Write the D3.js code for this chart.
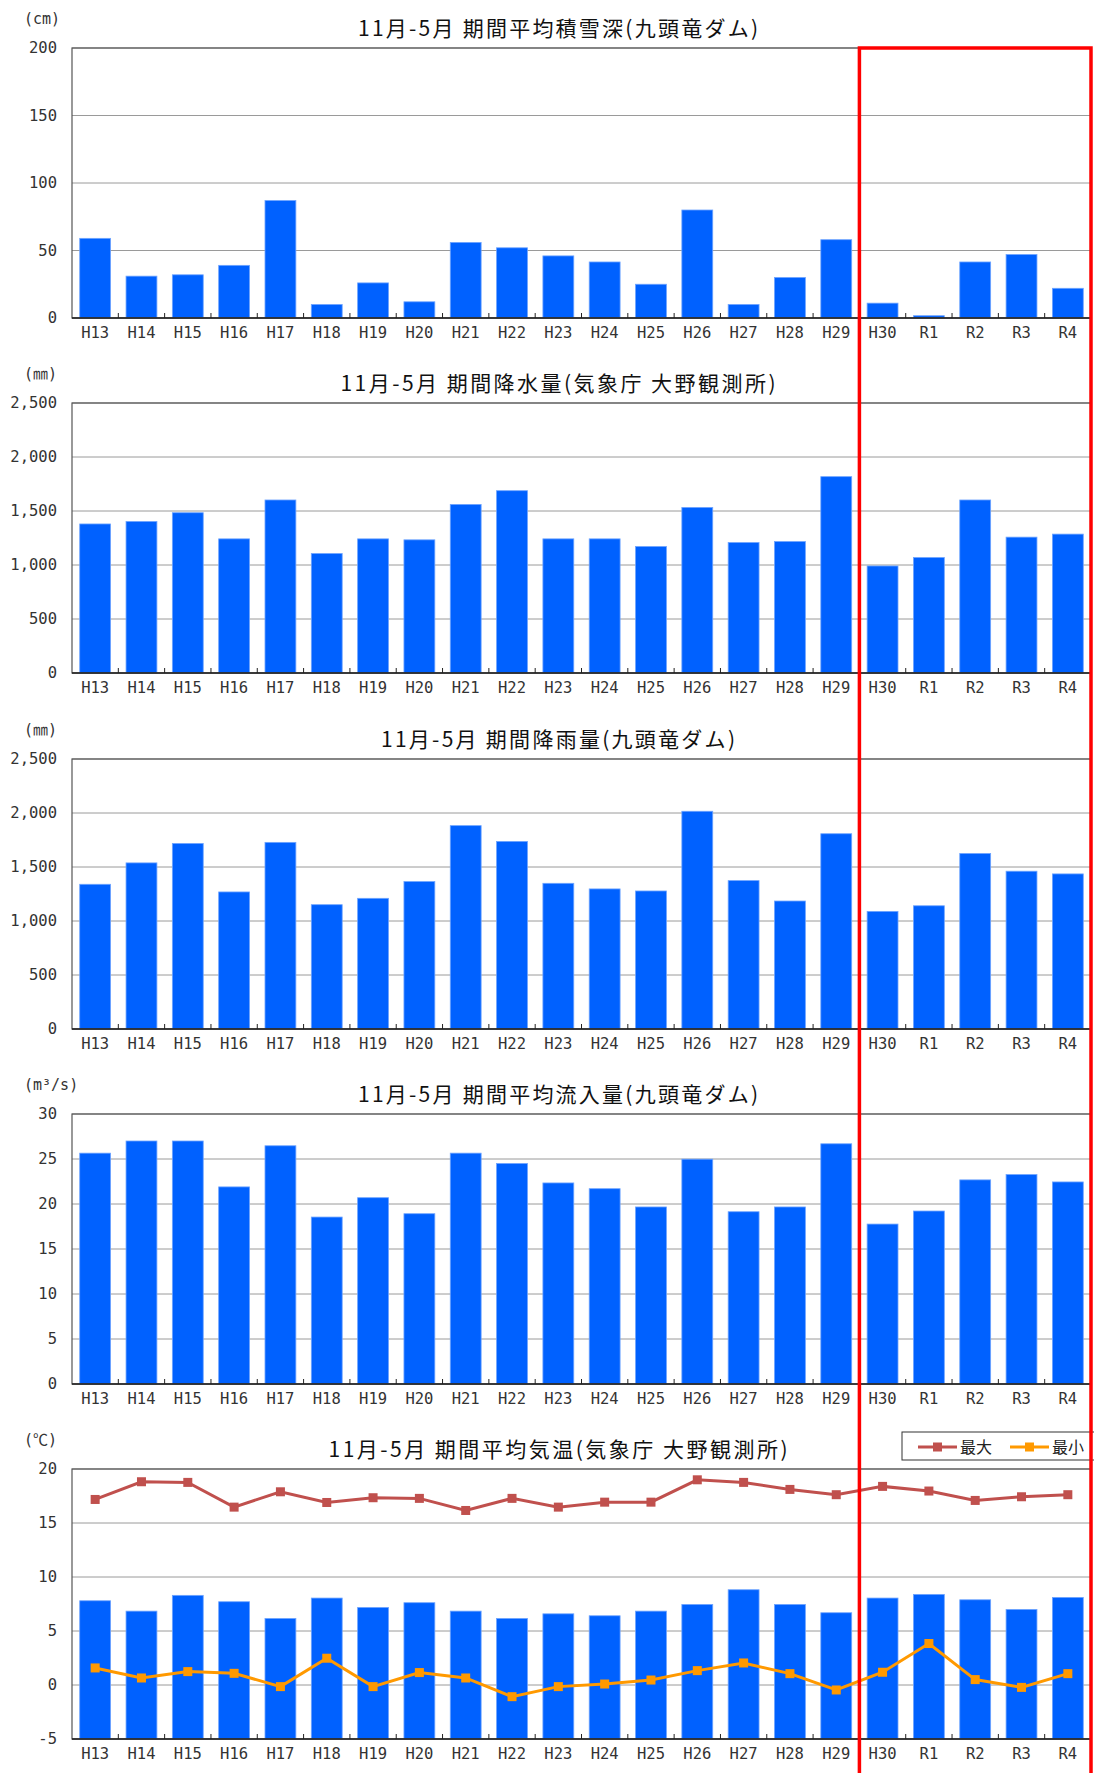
<!DOCTYPE html>
<html>
<head>
<meta charset="utf-8">
<script src="https://cdn.jsdelivr.net/npm/d3@7"></script>
<style>
  body { margin: 0; background: #fff; }
  svg text { font-family: "Noto Sans CJK JP", sans-serif; }
  svg text.lbl { font-family: "DejaVu Sans Mono", "Noto Sans CJK JP", monospace; }
</style>
</head>
<body>
<svg id="chart" width="1094" height="1773"></svg>
<script>
// 年度 (11月-5月の期間)
let years = ["H13", "H14", "H15", "H16", "H17", "H18", "H19", "H20", "H21", "H22", "H23",
  "H24", "H25", "H26", "H27", "H28", "H29", "H30", "R1", "R2", "R3", "R4"];

// 期間平均積雪深 (cm)
let snowDepth = [59, 31, 32, 39, 87, 10, 26, 12, 56, 52, 46, 41.5, 25, 80, 10, 30, 58, 11, 1.7, 41.5, 47, 22];
// 期間降水量 気象庁 大野 (mm)
let precipOno = [1380, 1403, 1484, 1242, 1602, 1106, 1242, 1233, 1561, 1688, 1242, 1242, 1171, 1533,
  1208, 1217, 1818, 991, 1069, 1602, 1258, 1286];
// 期間降雨量 九頭竜ダム (mm)
let rainDam = [1340, 1538, 1718, 1269, 1728, 1151, 1210, 1365, 1883, 1737, 1349, 1297, 1278, 2016,
  1374, 1185, 1808, 1089, 1141, 1625, 1461, 1436];
// 期間平均流入量 (m3/s)
let inflowDam = [25.65, 27.0, 27.0, 21.9, 26.47, 18.55, 20.7, 18.92, 25.65, 24.5, 22.34, 21.7, 19.67,
  24.98, 19.14, 19.67, 26.69, 17.77, 19.22, 22.68, 23.27, 22.45];
// 期間平均気温 (℃)
let tempAvg = [7.8, 6.84, 8.3, 7.71, 6.16, 8.05, 7.18, 7.62, 6.84, 6.16, 6.59, 6.41, 6.84, 7.46,
  8.82, 7.46, 6.69, 8.05, 8.39, 7.89, 7.0, 8.11];
let tempMax = [17.18, 18.82, 18.76, 16.47, 17.89, 16.9, 17.34, 17.28, 16.16, 17.28, 16.47, 16.93,
  16.93, 19.0, 18.76, 18.11, 17.62, 18.39, 17.96, 17.09, 17.43, 17.62];
let tempMin = [1.58, 0.65, 1.24, 1.08, -0.15, 2.48, -0.15, 1.15, 0.65, -1.08, -0.15, 0.09, 0.46,
  1.33, 2.04, 1.05, -0.46, 1.18, 3.84, 0.5, -0.22, 1.05];

// 軸目盛
let snowTicks = [0, 50, 100, 150, 200];
let mmTicks = [0, 500, 1000, 1500, 2000, 2500];
let inflowTicks = [0, 5, 10, 15, 20, 25, 30];
let tempTicks = [-5, 0, 5, 10, 15, 20];

let titles = [
  "11月-5月 期間平均積雪深(九頭竜ダム)",
  "11月-5月 期間降水量(気象庁 大野観測所)",
  "11月-5月 期間降雨量(九頭竜ダム)",
  "11月-5月 期間平均流入量(九頭竜ダム)",
  "11月-5月 期間平均気温(気象庁 大野観測所)"
];
let units = ["(cm)", "(㎜)", "(㎜)", "(m³/s)", "(℃)"];
let legendNames = ["最大", "最小"];

let panels = [
  { values: snowDepth, ticks: snowTicks, title: titles[0], unit: units[0], tw: 400 },
  { values: precipOno, ticks: mmTicks, title: titles[1], unit: units[1], tw: 435 },
  { values: rainDam, ticks: mmTicks, title: titles[2], unit: units[2], tw: 354 },
  { values: inflowDam, ticks: inflowTicks, title: titles[3], unit: units[3], tw: 400 },
  { values: tempAvg, ticks: tempTicks, title: titles[4], unit: units[4], tw: 459,
    lines: [
      { name: legendNames[0], values: tempMax, color: "#C0504D" },
      { name: legendNames[1], values: tempMin, color: "#FF9900" }
    ] }
];

let svg = d3.select("#chart");
let left = 72, right = 1091, plotH = 270;
let tops = [48, 403, 759, 1114, 1469];
let barColor = "#0061FF";
let fmt = d3.format(",");

let x = d3.scaleBand()
  .domain(years)
  .range([left, right])
  .paddingInner(1 / 3)
  .paddingOuter(1 / 6);
let gap = x.step() * x.paddingInner() / 2;

panels.forEach(function(p, k) {
  let top = tops[k];
  let g = svg.append("g");
  let y = d3.scaleLinear()
    .domain(d3.extent(p.ticks))
    .range([top + plotH, top]);

  // gridlines
  g.selectAll("line.grid")
    .data(p.ticks)
    .enter()
    .append("line")
    .attr("x1", left)
    .attr("x2", right)
    .attr("y1", d => y(d))
    .attr("y2", d => y(d))
    .attr("stroke", "#9a9a9a")
    .attr("stroke-width", 1);

  // bars (from axis minimum)
  let base = y(p.ticks[0]);
  g.selectAll("rect.bar")
    .data(p.values)
    .enter()
    .append("rect")
    .attr("x", (d, i) => x(years[i]))
    .attr("width", x.bandwidth())
    .attr("y", d => y(d))
    .attr("height", d => base - y(d))
    .attr("fill", barColor)
    .attr("stroke", "#6ea4ff")
    .attr("stroke-width", 0.8);

  // plot frame
  g.append("rect")
    .attr("x", left)
    .attr("y", top)
    .attr("width", right - left)
    .attr("height", plotH)
    .attr("fill", "none")
    .attr("stroke", "#555")
    .attr("stroke-width", 1.2);
  g.append("line")
    .attr("x1", left).attr("x2", right)
    .attr("y1", base).attr("y2", base)
    .attr("stroke", "#222")
    .attr("stroke-width", 1.5);

  // category tick marks between bars
  g.selectAll("line.ctick")
    .data(years.slice(1))
    .enter()
    .append("line")
    .attr("x1", d => x(d) - gap)
    .attr("x2", d => x(d) - gap)
    .attr("y1", base)
    .attr("y2", base - 5)
    .attr("stroke", "#222");

  // y axis labels
  let yAxis = d3.axisLeft(y)
    .tickValues(p.ticks)
    .tickSize(0)
    .tickPadding(15)
    .tickFormat(d => fmt(d).replace("−", "-"));
  let ya = g.append("g")
    .attr("transform", "translate(" + left + ",0)")
    .call(yAxis);
  ya.select(".domain").remove();
  ya.selectAll("text")
    .attr("class", "lbl")
    .attr("font-size", 15.5)
    .attr("fill", "#333");

  // x axis labels
  let xAxis = d3.axisBottom(x).tickSize(0).tickPadding(9);
  let xa = g.append("g")
    .attr("transform", "translate(0," + (top + plotH) + ")")
    .call(xAxis);
  xa.select(".domain").remove();
  xa.selectAll("text")
    .attr("class", "lbl")
    .attr("font-size", 15.5)
    .attr("fill", "#333");

  // title and unit
  g.append("text")
    .attr("x", 558)
    .attr("y", top - 12)
    .attr("text-anchor", "middle")
    .attr("font-size", 21)
    .attr("textLength", p.tw)
    .attr("lengthAdjust", "spacing")
    .attr("fill", "#111")
    .text(p.title);
  g.append("text")
    .attr("class", "lbl")
    .attr("x", 24)
    .attr("y", top - 24)
    .attr("font-size", 15)
    .attr("fill", "#333")
    .text(p.unit);

  // lines with square markers
  if (p.lines) {
    let line = d3.line()
      .x((d, i) => x(years[i]) + x.bandwidth() / 2)
      .y(d => y(d));
    p.lines.forEach(function(s) {
      g.append("path")
        .datum(s.values)
        .attr("d", line)
        .attr("fill", "none")
        .attr("stroke", s.color)
        .attr("stroke-width", 3);
      g.selectAll(null)
        .data(s.values)
        .enter()
        .append("rect")
        .attr("x", (d, i) => x(years[i]) + x.bandwidth() / 2 - 4.5)
        .attr("y", d => y(d) - 4.5)
        .attr("width", 9)
        .attr("height", 9)
        .attr("fill", s.color);
    });

    // legend
    let lg = g.append("g").attr("transform", "translate(902," + (top - 37) + ")");
    lg.append("rect")
      .attr("width", 200)
      .attr("height", 28)
      .attr("fill", "#fff")
      .attr("stroke", "#333");
    p.lines.forEach(function(s, i) {
      let ox = 16 + i * 92;
      lg.append("line")
        .attr("x1", ox).attr("x2", ox + 39)
        .attr("y1", 15).attr("y2", 15)
        .attr("stroke", s.color)
        .attr("stroke-width", 3);
      lg.append("rect")
        .attr("x", ox + 15).attr("y", 10.5)
        .attr("width", 9).attr("height", 9)
        .attr("fill", s.color);
      lg.append("text")
        .attr("x", ox + 42)
        .attr("y", 21)
        .attr("font-size", 16)
        .attr("fill", "#222")
        .text(s.name);
    });
  }
});

// highlight box around H30 - R4
svg.append("rect")
  .attr("x", x("H30") - gap)
  .attr("y", tops[0])
  .attr("width", right - (x("H30") - gap))
  .attr("height", 1800)
  .attr("fill", "none")
  .attr("stroke", "#FF0000")
  .attr("stroke-width", 3.5);
</script>
</body>
</html>
